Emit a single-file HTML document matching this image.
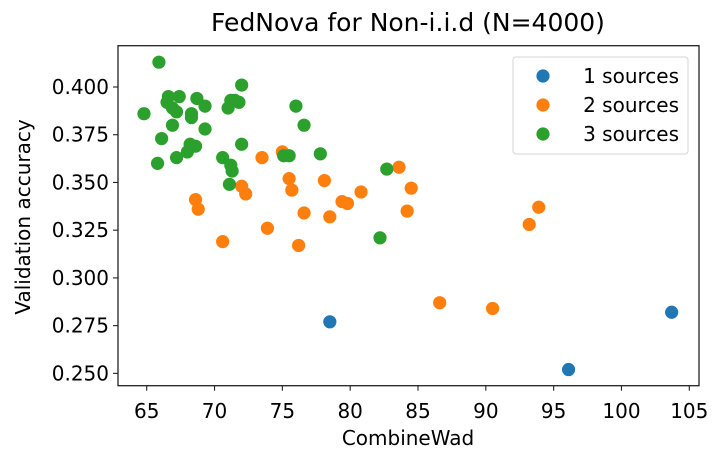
<!DOCTYPE html>
<html><head><meta charset="utf-8"><style>
body{margin:0;background:#fff;}
text{font-family:"DejaVu Sans","Liberation Sans",sans-serif;fill:#000;}
</style></head><body>
<svg id="chart" width="724" height="464" xmlns="http://www.w3.org/2000/svg">
<rect width="724" height="464" fill="#fff"/>
<g id="marks"></g>
<g id="axes"></g>
</svg>
<script>
const xTicks=[65,70,75,80,85,90,95,100,105];
const yTicks=[0.250,0.275,0.300,0.325,0.350,0.375,0.400];
const seriesNames=["1 sources","2 sources","3 sources"];
const seriesColors=["#1f77b4","#ff7f0e","#2ca02c"];
const s1x=[78.5,96.1,103.7];
const s1y=[0.277,0.252,0.282];
const s2x=[68.6,68.8,70.6,72.0,72.3,73.5,73.9,75.0,75.5,75.7,76.2,76.6,78.1,78.5,79.4,79.8,80.8,83.6,84.2,84.5,86.6,90.5,93.2,93.9];
const s2y=[0.341,0.336,0.319,0.348,0.344,0.363,0.326,0.366,0.352,0.346,0.317,0.334,0.351,0.332,0.340,0.339,0.345,0.358,0.335,0.347,0.287,0.284,0.328,0.337];
const s3x=[65.9,64.8,66.1,65.8,66.5,66.6,66.9,66.9,67.2,67.4,67.2,68.0,68.2,68.3,68.3,68.6,68.7,69.3,69.3,70.6,71.0,71.2,71.5,71.8,71.2,71.3,71.1,72.0,72.0,75.1,75.5,76.0,76.6,77.8,82.7,82.2];
const s3y=[0.413,0.386,0.373,0.360,0.392,0.395,0.380,0.389,0.387,0.395,0.363,0.366,0.370,0.386,0.384,0.369,0.394,0.390,0.378,0.363,0.389,0.393,0.393,0.392,0.359,0.356,0.349,0.401,0.370,0.364,0.364,0.390,0.380,0.365,0.357,0.321];

const L=118,R=699,T=45.7,B=385.7;
const xPx=v=>146.7+(v-65)*13.565;
const yPx=v=>87-(v-0.4)*1909;
const NS="http://www.w3.org/2000/svg";
function mk(tag,attrs,parent){const e=document.createElementNS(NS,tag);for(const k in attrs)e.setAttribute(k,attrs[k]);parent.appendChild(e);return e;}
const marks=document.getElementById('marks'),axes=document.getElementById('axes');
const all=[[s1x,s1y],[s2x,s2y],[s3x,s3y]];
all.forEach((s,si)=>{
  const g=mk('g',{},marks);
  
  
  s[0].forEach((x,i)=>{
    const c=mk('circle',{cx:xPx(x),cy:yPx(s[1][i]),r:6.6,fill:seriesColors[si]},g);
    
    
  });
});
const frame=mk('rect',{x:L,y:T,width:R-L,height:B-T,fill:'none',stroke:'#222','stroke-width':1.3},axes);


xTicks.forEach(v=>{
  const x=xPx(v);
  mk('line',{x1:x,x2:x,y1:B,y2:B+5,stroke:'#222','stroke-width':1.1},axes);
  const t=mk('text',{x:x,y:418,'text-anchor':'middle','font-size':20},axes);
  t.textContent=v;
  
  
});
yTicks.forEach(v=>{
  const y=yPx(v);
  mk('line',{x1:L-5,x2:L,y1:y,y2:y,stroke:'#222','stroke-width':1.1},axes);
  const t=mk('text',{x:L-9,y:y+7,'text-anchor':'end','font-size':20},axes);
  t.textContent=v.toFixed(3);
  
  
});
const title=mk('text',{x:408,y:31,'text-anchor':'middle','font-size':25},axes);
title.textContent='FedNova for Non-i.i.d (N=4000)';


const xt=mk('text',{x:408,y:445,'text-anchor':'middle','font-size':20},axes);
xt.textContent='CombineWad';


const yt=mk('text',{x:0,y:0,'text-anchor':'middle','font-size':20,transform:'translate(30,217) rotate(-90)'},axes);
yt.textContent='Validation accuracy';


const lg=mk('g',{},axes);


mk('rect',{x:513,y:57,width:175,height:97,rx:3,fill:'#fff','fill-opacity':0.8,stroke:'#d5d5d5','stroke-width':1},lg);
seriesNames.forEach((n,i)=>{
  const y=76+i*29;
  const e=mk('g',{},lg);
  
  
  mk('circle',{cx:543,cy:y,r:6.6,fill:seriesColors[i]},e);
  const t=mk('text',{x:679,y:y+7,'text-anchor':'end','font-size':20},e);
  t.textContent=n;
});
</script>
</body></html>
